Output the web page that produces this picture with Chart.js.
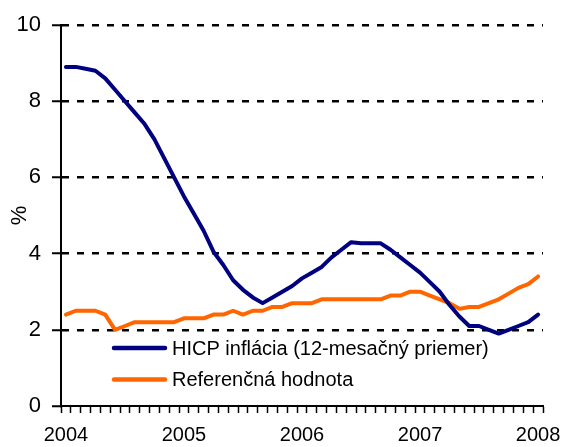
<!DOCTYPE html>
<html>
<head>
<meta charset="utf-8">
<script src="https://cdn.jsdelivr.net/npm/chart.js@4/dist/chart.umd.min.js"></script>
<style>
  html, body { margin: 0; padding: 0; background: #fff; }
</style>
</head>
<body>
<canvas id="inflation-chart" width="563" height="447"></canvas>
<script>
// months Jan 2004 .. Jan 2008
const years = ["2004", "2005", "2006", "2007", "2008"];
const months = [];
years.forEach(y => {
    for (let m = 1; m <= 12; m++) {
        if (y === "2008" && m > 1) break;
        months.push(y + "-" + String(m).padStart(2, "0"));
    }
});

const hicp = [
    8.9, 8.9, 8.85, 8.8, 8.6, 8.3, 8.0, 7.7, 7.4, 7.0, 6.5, 6.0,
    5.5, 5.05, 4.6, 4.05, 3.7, 3.3, 3.05, 2.85, 2.7, 2.85, 3.0, 3.15,
    3.35, 3.5, 3.65, 3.9, 4.1, 4.3, 4.27, 4.27, 4.27, 4.1, 3.9, 3.7,
    3.5, 3.25, 3.0, 2.65, 2.35, 2.1, 2.1, 2.0, 1.9, 2.0, 2.1, 2.2,
    2.4
];
const reference = [
    2.4, 2.5, 2.5, 2.5, 2.4, 2.0, 2.1, 2.2, 2.2, 2.2, 2.2, 2.2,
    2.3, 2.3, 2.3, 2.4, 2.4, 2.5, 2.4, 2.5, 2.5, 2.6, 2.6, 2.7,
    2.7, 2.7, 2.8, 2.8, 2.8, 2.8, 2.8, 2.8, 2.8, 2.9, 2.9, 3.0,
    3.0, 2.9, 2.8, 2.7, 2.55, 2.6, 2.6, 2.7, 2.8, 2.95, 3.1, 3.2,
    3.4
];

Chart.defaults.font.family = "'Liberation Sans', Arial, sans-serif";
Chart.defaults.color = "#000";

// legend drawn inside the plot, bottom left
const insideLegend = {
    id: "insideLegend",
    afterDraw(chart) {
        const ctx = chart.ctx;
        const a = chart.chartArea;
        ctx.save();
        ctx.font = "20px 'Liberation Sans', Arial, sans-serif";
        ctx.textBaseline = "middle";
        chart.data.datasets.forEach((ds, i) => {
            const y = a.top + 323 + i * 31.5;
            ctx.strokeStyle = ds.borderColor;
            ctx.lineWidth = 4.5;
            ctx.lineCap = "round";
            ctx.beginPath();
            ctx.moveTo(a.left + 53, y);
            ctx.lineTo(a.left + 104, y);
            ctx.stroke();
            ctx.fillStyle = "#000";
            ctx.fillText(ds.label, a.left + 111, y + 1);
        });
        ctx.restore();
    }
};

new Chart(document.getElementById("inflation-chart"), {
    type: "line",
    data: {
        labels: months,
        datasets: [{
            label: "HICP inflácia (12-mesačný priemer)",
            data: hicp,
            borderColor: "#000080",
            borderWidth: 4,
            pointRadius: 0,
            tension: 0,
            borderJoinStyle: "round",
            borderCapStyle: "round"
        }, {
            label: "Referenčná hodnota",
            data: reference,
            borderColor: "#ff6600",
            borderWidth: 4,
            pointRadius: 0,
            tension: 0,
            borderJoinStyle: "round",
            borderCapStyle: "round"
        }]
    },
    options: {
        responsive: false,
        animation: false,
        layout: { padding: { left: 0, right: 20, top: 25, bottom: 0 } },
        plugins: {
            legend: { display: false },
            tooltip: { enabled: false }
        },
        scales: {
            x: {
                offset: true,
                afterFit(s) {
                    s.height = 41;
                    s.paddingLeft = 0;
                    s.paddingRight = 0;
                },
                grid: {
                    offset: true,
                    drawOnChartArea: false,
                    tickLength: 7,
                    tickColor: "#000",
                    tickWidth: 1.5
                },
                border: { color: "#000", width: 2 },
                ticks: {
                    autoSkip: false,
                    maxRotation: 0,
                    minRotation: 0,
                    padding: 10,
                    font: { size: 20 },
                    callback: (v, i) => i % 12 === 0 ? months[i].slice(0, 4) : ""
                }
            },
            y: {
                min: 0,
                max: 10,
                afterFit(s) { s.width = 61; },
                title: {
                    display: true,
                    text: "%",
                    font: { size: 22 },
                    padding: { top: 7, bottom: 0 }
                },
                grid: {
                    color: c => c.tick && c.tick.value === 0 ? "rgba(0,0,0,0)" : "#000",
                    lineWidth: 2.5,
                    tickLength: 9,
                    tickColor: "#000",
                    tickWidth: 2
                },
                border: { color: "#000", width: 2, dash: [7, 8] },
                ticks: {
                    stepSize: 2,
                    padding: 11,
                    font: { size: 22 }
                }
            }
        }
    },
    plugins: [insideLegend]
});
</script>
</body>
</html>
